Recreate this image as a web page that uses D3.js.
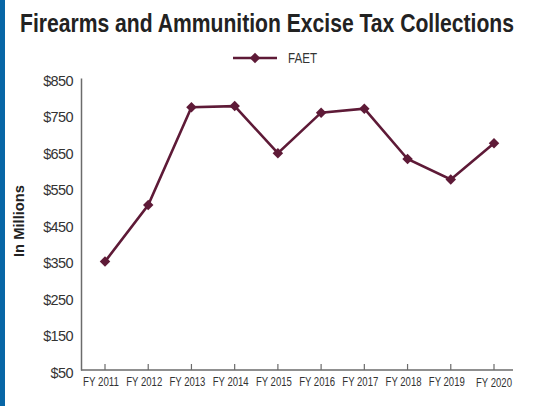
<!DOCTYPE html>
<html>
<head>
<meta charset="utf-8">
<script src="https://cdn.jsdelivr.net/npm/d3@7"></script>
<style>
  html, body { margin: 0; padding: 0; background: #fff; }
  svg { display: block; }
</style>
</head>
<body>
<svg id="chart" width="535" height="406"></svg>
<script>
// Fiscal years on the x axis
const years = ["FY 2011", "FY 2012", "FY 2013", "FY 2014", "FY 2015",
               "FY 2016", "FY 2017", "FY 2018", "FY 2019", "FY 2020"];
// Firearms and ammunition excise tax collections, $ millions
const faet = [347, 502, 770, 773, 644, 755, 766, 628, 572, 671];
// Value axis ticks
const yTicks = [50, 150, 250, 350, 450, 550, 650, 750, 850];

const svg = d3.select("#chart");
const W = 535, H = 406;
const sans = "'Liberation Sans', Arial, Helvetica, sans-serif";
const plotColor = "#5e1a37";
const axisColor = "#6b6b6b";

// Condensed text: draw at (x, y) and squeeze horizontally to a target width
function narrowText(parent, x, y, str, opts) {
  const g = parent.append("g").attr("transform", `translate(${x},${y})`);
  const inner = g.append("g");
  const t = inner.append("text")
    .attr("text-anchor", opts.anchor || "middle")
    .attr("font-family", sans)
    .attr("font-weight", opts.weight || "normal")
    .attr("font-size", opts.size)
    .attr("fill", opts.fill || "#333")
    .text(str);
  if (opts.dy) t.attr("dy", opts.dy);
  const w = t.node().getComputedTextLength();
  const sx = w > 0 ? opts.width / w : 1;
  inner.attr("transform", `${opts.rotate ? `rotate(${opts.rotate}) ` : ""}scale(${sx},1)`);
  return g;
}

// Left accent stripe
svg.append("rect").attr("x", 0).attr("y", 0).attr("width", 5).attr("height", H)
  .attr("fill", "#0766a6");

// Title
narrowText(svg, 267, 32, "Firearms and Ammunition Excise Tax Collections",
  { size: 25.5, weight: "bold", fill: "#222", width: 494 });

const x0 = 81, x1 = 513, yTop = 78, yBot = 370;

const x = d3.scalePoint().domain(years).range([105, 494]);
const y = d3.scaleLinear().domain([50, 850]).range([yBot, yTop]);

// Y axis
const yAxis = svg.append("g").attr("transform", `translate(${x0},0)`)
  .call(d3.axisLeft(y).tickValues(yTicks).tickSize(0).tickPadding(8)
    .tickFormat(d => "$" + d));
yAxis.select(".domain").attr("stroke", axisColor).attr("stroke-width", 1.5);
yAxis.selectAll("text")
  .attr("font-family", sans)
  .attr("font-size", 14.5).attr("fill", "#333").attr("dy", "0.5em")
  .attr("letter-spacing", -0.6);

// X axis with inward ticks
const xAxis = svg.append("g").attr("transform", `translate(0,${yBot})`);
xAxis.append("line").attr("x1", x0).attr("x2", x1).attr("y1", 0).attr("y2", 0)
  .attr("stroke", axisColor).attr("stroke-width", 1.5);
xAxis.selectAll(".tk").data(years).join("line").attr("class", "tk")
  .attr("x1", d => x(d)).attr("x2", d => x(d)).attr("y1", 0).attr("y2", -6)
  .attr("stroke", axisColor).attr("stroke-width", 1.2);
years.forEach((d, i) => {
  const last = i === years.length - 1;
  narrowText(xAxis, x(d) + (last ? 0 : -4), last ? 17 : 16, d,
    { size: 12.5, width: 36, fill: "#333" });
});

// Y axis title
narrowText(svg, 24, 221, "In Millions",
  { size: 14.5, weight: "bold", fill: "#222", width: 72, rotate: -90 });

// Series line and diamond markers
const line = d3.line().x((d, i) => x(years[i])).y(d => y(d));
svg.append("path").datum(faet).attr("d", line)
  .attr("fill", "none").attr("stroke", plotColor).attr("stroke-width", 2.6)
  .attr("stroke-linejoin", "miter");

const diamond = d3.symbol().type(d3.symbolDiamond2).size(70);
svg.selectAll(".pt").data(faet).join("path").attr("class", "pt")
  .attr("transform", (d, i) => `translate(${x(years[i])},${y(d)})`)
  .attr("d", diamond).attr("fill", plotColor);

// Legend
const lg = svg.append("g").attr("transform", "translate(233,58)");
lg.append("line").attr("x1", 0).attr("x2", 44).attr("y1", 0).attr("y2", 0)
  .attr("stroke", plotColor).attr("stroke-width", 2.6);
lg.append("path").attr("transform", "translate(22,0)").attr("d", diamond)
  .attr("fill", plotColor);
narrowText(lg, 55, 0, "FAET",
  { size: 14, width: 29, anchor: "start", dy: "0.36em", fill: "#333" });
</script>
</body>
</html>
